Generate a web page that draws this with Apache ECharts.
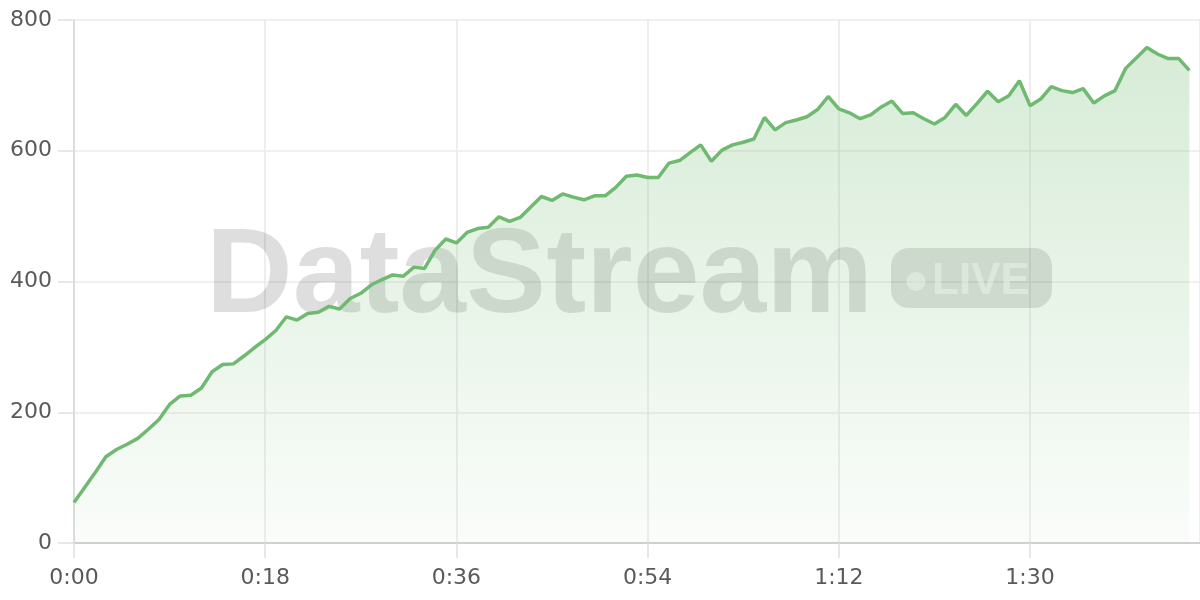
<!DOCTYPE html>
<html>
<head>
<meta charset="utf-8">
<script src="https://cdn.jsdelivr.net/npm/echarts@6/dist/echarts.min.js"></script>
<style>
  html, body { margin: 0; padding: 0; background: #ffffff; }
  #chart { width: 1200px; height: 600px; }
</style>
</head>
<body>
<div id="chart"></div>
<script>
// Sample values, one per second from 0:00 to 1:45
const values = [
  62, 85, 108, 132, 143, 151, 160, 174, 189, 212,
  225, 226, 237, 262, 273, 274, 286, 299, 311, 325,
  346, 341, 351, 353, 362, 358, 374, 382, 395, 403,
  410, 408, 422, 420, 448, 465, 459, 475, 481, 483,
  499, 492, 498, 514, 530, 524, 534, 529, 525, 531,
  531, 544, 561, 563, 559, 559, 581, 585, 597, 609,
  584, 601, 609, 613, 618, 651, 632, 643, 647, 652,
  663, 683, 664, 658, 649, 655, 667, 676, 657, 658,
  649, 641, 651, 671, 654, 672, 691, 675, 684, 707,
  669, 679, 698, 692, 689, 695, 673, 684, 692, 726,
  742, 758, 748, 741, 741, 723
];
const xTicks = [0, 18, 36, 54, 72, 90];        // seconds
const yTicks = [0, 200, 400, 600, 800];
const watermarkText = 'DataStream';
const badgeText = 'LIVE';

function fmtTime(s) {
  const m = Math.floor(s / 60);
  const ss = s % 60;
  return m + ':' + (ss < 10 ? '0' : '') + ss;
}

const seriesData = values.map((v, i) => [i, v]);
const lineColor = 'rgb(112,185,112)';
const labelFont = { color: '#5a5a5a', fontSize: 22, fontFamily: 'DejaVu Sans' };

const chart = echarts.init(document.getElementById('chart'), null, { renderer: 'canvas' });
chart.setOption({
  animation: false,
  backgroundColor: '#ffffff',
  grid: { left: 74, right: 0, top: 20, bottom: 57, containLabel: false },
  xAxis: {
    type: 'value',
    min: 0,
    max: 106,
    interval: xTicks[1] - xTicks[0],
    axisLine: { show: true, lineStyle: { color: '#d0d0d0', width: 2 } },
    axisTick: { show: true, length: 15, lineStyle: { color: '#e0e0e0', width: 1.5 } },
    splitLine: { show: true, lineStyle: { color: '#e8e8e8', width: 1.5 } },
    axisLabel: Object.assign({
      margin: 24,
      showMaxLabel: false,
      formatter: v => (xTicks.indexOf(v) >= 0 ? fmtTime(v) : '')
    }, labelFont)
  },
  yAxis: {
    type: 'value',
    min: yTicks[0],
    max: yTicks[yTicks.length - 1],
    interval: yTicks[1] - yTicks[0],
    axisLine: { show: true, lineStyle: { color: '#d6d6d6', width: 1.5 } },
    axisTick: { show: true, length: 16, lineStyle: { color: '#e0e0e0', width: 1.5 } },
    splitLine: { show: true, lineStyle: { color: '#ebebeb', width: 1.5 } },
    axisLabel: Object.assign({ margin: 22 }, labelFont)
  },
  graphic: [
    {
      type: 'text', z: 1, silent: true,
      style: {
        x: 206, y: 279, text: watermarkText,
        font: 'bold 120px "Liberation Sans", Arial, sans-serif',
        fill: 'rgba(0,0,0,0.13)', align: 'left', verticalAlign: 'middle'
      }
    },
    {
      type: 'rect', z: 1, silent: true,
      shape: { x: 891, y: 248, width: 161, height: 60, r: 18 },
      style: { fill: 'rgba(0,0,0,0.12)' }
    },
    {
      type: 'circle', z: 1, silent: true,
      shape: { cx: 916, cy: 281.5, r: 9.5 },
      style: { fill: 'rgba(255,255,255,0.55)' }
    },
    {
      type: 'text', z: 1, silent: true,
      style: {
        x: 932, y: 282, text: badgeText,
        font: 'bold 44px "Liberation Sans", Arial, sans-serif',
        fill: 'rgba(255,255,255,0.55)', align: 'left', verticalAlign: 'middle'
      }
    }
  ],
  series: [{
    type: 'line',
    data: seriesData,
    showSymbol: false,
    smooth: false,
    z: 3,
    lineStyle: { color: lineColor, width: 3.5 },
    itemStyle: { color: lineColor },
    areaStyle: {
      color: new echarts.graphic.LinearGradient(0, 0, 0, 1, [
        { offset: 0, color: 'rgba(112,185,112,0.4)' },
        { offset: 1, color: 'rgba(112,185,112,0.05)' }
      ])
    }
  }]
});
</script>
</body>
</html>
